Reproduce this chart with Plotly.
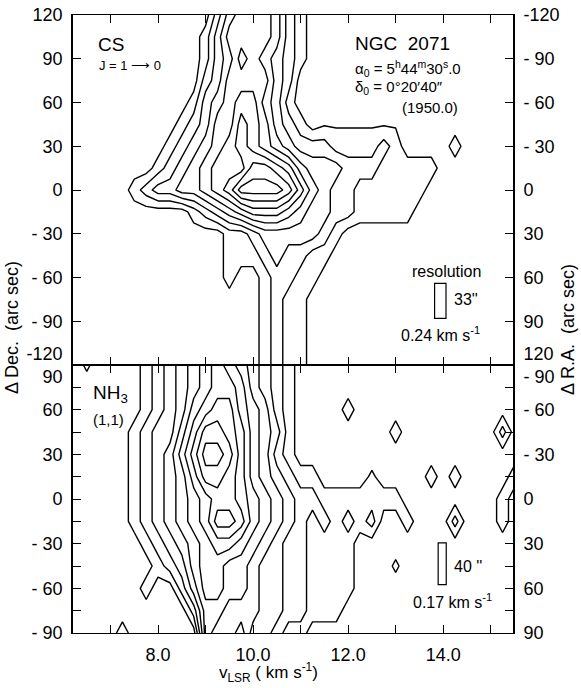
import numpy as np
import plotly.graph_objects as go

# ---------------- data ----------------
# velocity channels (km/s) shared by both maps
v_chan = [6.25, 6.5, 6.75, 7.0, 7.25, 7.5, 7.75, 8.0, 8.25, 8.5, 8.75, 9.0, 9.25,
          9.5, 9.75, 10.0, 10.25, 10.5, 10.75, 11.0, 11.25, 11.5, 11.75, 12.0,
          12.25, 12.5, 12.75, 13.0, 13.25, 13.5, 13.75, 14.0, 14.25, 14.5,
          14.75, 15.0, 15.25, 15.5]

# CS J=1-0 : declination offsets (arcsec) and relative intensity per channel
# ('0'-'9' levels, 'a'=10, '+'=0.7, '-'=0.4)
cs_dec = [120, 105, 90, 75, 60, 45, 30, 15, 0, -15, -30, -45, -60, -75, -90, -105, -120]
cs_rows = [
    "000000000000245554210",
    "000000000001355554210",
    "000000000001346543210",
    "00000000000235555320",
    "00000000001345664310",
    "000000000123557653210" + "-------",
    "00000000123456765432" + "22111121" + "0000" + "1",
    "000000" + "0123456668876433322211111",
    "0000" + "012334456799998643221111110",
    "000000000" + "012345666543322111110",
    "000000000000" + "011233333210",
    "0000000000000" + "1112322110",
    "0000000000000" + "100122110",
    "000000000000000012110",
    "000000000000000012110",
    "000000000000000012110",
    "000000000000000012110",
]

# NH3 (1,1) : declination offsets and relative intensity
nh3_dec = [90, 75, 60, 45, 30, 15, 0, -15, -30, -45, -60, -75, -90]
nh3_rows = [
    "0+0000" + "1234567654321",
    "000000" + "1234567764321",
    "000000" + "1234678865421" + "0000" + "1",
    "00000" + "12335799875431" + "00000000" + "1" + "00000000" + "2",
    "00000" + "123468aa975421",
    "00000" + "1234579987543211" + "0000" + "+" + "0000" + "1" + "0" + "1" + "0000" + "1",
    "00000" + "12345678876543221111111" + "00000000" + "1",
    "00000" + "123456799865432121212" + "00" + "1" + "000" + "2" + "000" + "1",
    "000000" + "123456776543221111",
    "0000000" + "12356655433221111" + "000" + "+",
    "000000" + "100" + "246655433221111",
    "0000000000" + "2554443322111",
    "0000" + "1" + "000000" + "544533211",
]

# axis ticks / labels (label text = offset value; R.A. axes run the other way)
v_ticks = [7, 8, 9, 10, 11, 12, 13, 14, 15]
v_ticktext = ["", "8.0", "", "10.0", "", "12.0", "", "14.0", ""]
cs_ticks = [120, 90, 60, 30, 0, -30, -60, -90, -120]
cs_ticktext = ["120", "90", "60", "30", "0", "- 30", "- 60", "- 90", "-120"]
nh3_ticks = [90, 75, 60, 45, 30, 15, 0, -15, -30, -45, -60, -75, -90]
nh3_ticktext = ["90", "", "60", "", "30", "", "0", "", "- 30", "", "- 60", "", "- 90"]

# resolution (channel width km/s, beam arcsec)
cs_res_kms, cs_res_beam = 0.24, 33
nh3_res_kms, nh3_res_beam = 0.17, 40

SPECIAL = {"+": 0.7, "-": 0.4}


def parse(rows, n):
    out = []
    for s in rows:
        s = s.ljust(n, "0")[:n]
        out.append([SPECIAL[ch] if ch in SPECIAL else int(ch, 36) for ch in s])
    return np.array(out, dtype=float)


def stagger(texts, value_list, raise_val=None, lower_val=None):
    # labels that meet at the shared panel edge are nudged apart
    out = []
    for t, v in zip(texts, value_list):
        if v == raise_val:
            t = t + "<br> "
        elif v == lower_val:
            t = " <br>" + t
        out.append(t)
    return out


z_cs = parse(cs_rows, len(v_chan))
z_nh3 = parse(nh3_rows, len(v_chan))

BLACK = [[0, "black"], [1, "black"]]
FONT = "Liberation Sans, Arial, sans-serif"
TICKFONT = "Liberation Sans Narrow, Liberation Sans, Arial, sans-serif"

fig = go.Figure()
fig.add_trace(go.Contour(
    x=v_chan, y=cs_dec, z=z_cs, xaxis="x", yaxis="y",
    contours=dict(coloring="lines", start=0.5, end=8.5, size=1),
    colorscale=BLACK, showscale=False, line=dict(width=1.4, smoothing=0),
    hoverinfo="skip"))
fig.add_trace(go.Contour(
    x=v_chan, y=nh3_dec, z=z_nh3, xaxis="x2", yaxis="y2",
    contours=dict(coloring="lines", start=0.5, end=9.5, size=1),
    colorscale=BLACK, showscale=False, line=dict(width=1.4, smoothing=0),
    hoverinfo="skip"))
# carriers for the right-hand (Delta R.A.) axes
fig.add_trace(go.Scatter(x=[None], y=[None], xaxis="x", yaxis="y3",
                         showlegend=False, hoverinfo="skip"))
fig.add_trace(go.Scatter(x=[None], y=[None], xaxis="x2", yaxis="y4",
                         showlegend=False, hoverinfo="skip"))

W, H = 581, 688
L, T, PW, PH = 73, 15, 440, 618
split = 0.4336
common_ax = dict(showline=True, linecolor="black", linewidth=1.6, ticks="inside",
                 ticklen=8, tickwidth=1.4, tickcolor="black", showgrid=False,
                 zeroline=False, automargin=False, ticklabeloverflow="allow",
                 ticklabelstandoff=5,
                 tickfont=dict(family=TICKFONT, size=18, color="black"))
x_ax = dict(common_ax, linewidth=1.1, ticklabelstandoff=5)

fig.update_layout(
    width=W, height=H,
    margin=dict(l=L, r=W - L - PW, t=T, b=H - T - PH, autoexpand=False),
    paper_bgcolor="white", plot_bgcolor="white",
    showlegend=False,
    xaxis=dict(x_ax, domain=[0, 1], anchor="y", range=[6.21, 15.47],
               tickvals=v_ticks, showticklabels=False, mirror="ticks"),
    xaxis2=dict(x_ax, domain=[0, 1], anchor="y2", range=[6.21, 15.47],
                tickvals=v_ticks, ticktext=v_ticktext, mirror="ticks"),
    yaxis=dict(common_ax, domain=[split, 1], anchor="x", range=[-120, 120],
               tickvals=cs_ticks, ticktext=stagger(cs_ticktext, cs_ticks, raise_val=-120),
               mirror=True),
    yaxis2=dict(common_ax, domain=[0, split], anchor="x2", range=[-90, 90],
                tickvals=nh3_ticks, ticktext=stagger(nh3_ticktext, nh3_ticks, lower_val=90),
                mirror=True),
    yaxis3=dict(common_ax, overlaying="y", side="right", anchor="x", range=[120, -120],
                tickvals=cs_ticks, ticktext=stagger(cs_ticktext, cs_ticks, raise_val=120)),
    yaxis4=dict(common_ax, overlaying="y2", side="right", anchor="x2", range=[90, -90],
                tickvals=nh3_ticks, ticktext=stagger(nh3_ticktext, nh3_ticks, lower_val=-90)),
)


def px_x(px):
    # pixel -> paper fraction (plot area spans x 73..513)
    return (px - 73) / 440.0


def px_y(py):
    # pixel -> paper fraction (plot area spans y 15..633)
    return (633 - py) / 618.0


def note(text, x, y, size=14, **kw):
    fig.add_annotation(text=text, x=px_x(x), y=px_y(y), xref="paper", yref="paper",
                       showarrow=False, xanchor=kw.pop("xanchor", "left"),
                       yanchor=kw.pop("yanchor", "middle"),
                       font=dict(family=kw.pop("family", FONT), size=size, color="black"),
                       **kw)


note("CS", 96, 45, 19)
note("J = 1 ⟶ 0", 97, 66, 13)
note("NGC  2071", 353, 43, 19)
note("α<sub>0</sub> = 5<sup>h</sup>44<sup>m</sup>30<sup>s</sup>.0", 353, 68, 15)
note("δ<sub>0</sub> = 0°20′40″", 353, 88, 15)
note("(1950.0)", 400, 107, 15)
note("resolution", 410, 271, 16)
note(f"{cs_res_beam}''", 452, 299, 16)
note(f"{cs_res_kms} km s<sup>-1</sup>", 399, 334, 16)
note("NH<sub>3</sub>", 91, 394, 19)
note("(1,1)", 91, 420, 15)
note(f"{nh3_res_beam} ''", 452, 566, 16)
note(f"{nh3_res_kms} km s<sup>-1</sup>", 411, 601, 16)
note("Δ Dec.  (arc sec)", 12, 328, 18, xanchor="center", textangle=-90)
note("Δ R.A.  (arc sec)", 568, 330, 18, xanchor="center", textangle=-90)
note("v<sub>LSR</sub> ( km s<sup>-1</sup>)", 268, 672, 17, xanchor="center")

# resolution boxes (width = channel width, drawn at the legend position)
box_style = dict(type="rect", line=dict(color="black", width=1.2), fillcolor="white")
fig.add_shape(box_style, xref="x", yref="y",
              x0=13.94 - cs_res_kms / 2, x1=13.94 + cs_res_kms / 2, y0=-88, y1=-64)
fig.add_shape(box_style, xref="x2", yref="y2",
              x0=13.98 - nh3_res_kms / 2, x1=13.98 + nh3_res_kms / 2, y0=-57.5, y1=-29.5)

# the page's default 8px body margin would shift the figure; remove it
fig.write_html("out.html", config={"displayModeBar": False},
               post_script="document.body.style.margin='0';document.body.style.padding='0';")
